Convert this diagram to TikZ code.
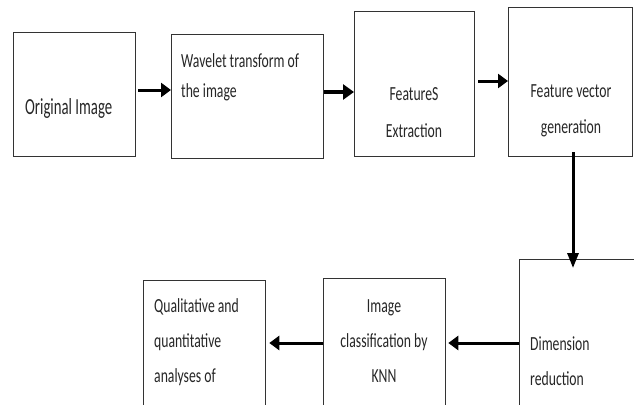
\documentclass[tikz,border=0pt]{standalone}
\usepackage{fontspec}
\usetikzlibrary{arrows.meta,calc}
\newfontfamily\diafont[FakeStretch=0.685]{Carlito}
\newcommand\mylines[2]{\begin{tabular}[t]{@{}#1@{}}#2\end{tabular}}
\begin{document}
\begin{tikzpicture}[x=1pt,y=-1pt,
  box/.style={draw=black!80, line width=1.3pt, anchor=north west, inner sep=0pt},
  txt/.style={inner sep=0pt, text=black!85, font=\diafont\fontsize{20}{35}\selectfont},
  arr/.style={line width=3pt, black, -{Triangle[length=10pt,width=14pt]}},
  arrb/.style={line width=4pt, black, -{Triangle[length=11pt,width=15pt]}},
  arrv/.style={line width=3pt, black, -{Triangle[length=15pt,width=11pt]}}]
\useasboundingbox (0,0) rectangle (634,404);
\begin{scope}
\clip (0,0) rectangle (634,404);
% boxes
\node[box, minimum width=122pt, minimum height=124pt] (b1) at (13,32) {};
\node[box, minimum width=152pt, minimum height=124pt] (b2) at (171,34) {};
\node[box, minimum width=120pt, minimum height=145pt] (b3) at (354,11) {};
\node[box, minimum width=124pt, minimum height=149pt] (b4) at (508,7) {};
\node[box, minimum width=140pt, minimum height=170pt] (b5) at (519,259) {};
\node[box, minimum width=122pt, minimum height=150pt] (b6) at (323,278) {};
\node[box, minimum width=122pt, minimum height=150pt] (b7) at (143,280) {};
% texts
\node[txt, font=\diafont\fontsize{23}{35}\selectfont, anchor=base west] (t1) at (25,114) {\resizebox{87pt}{\height}{Original Image}};
\node[txt, anchor=base west, font=\diafont\fontsize{20}{30}\selectfont] (t2) at (181,67) {\mylines{l}{Wavelet transform of\\the image}};
\node[txt, anchor=base, font=\diafont\fontsize{20}{37}\selectfont] (t3) at (414,100) {\mylines{c}{FeatureS\\Extraction}};
\node[txt, anchor=base, font=\diafont\fontsize{20}{36}\selectfont] (t4) at (571,97) {\mylines{c}{Feature vector\\generation}};
\node[txt, anchor=base west] (t5) at (530,350) {\mylines{l}{Dimension\\reduction}};
\node[txt, anchor=base] (t6) at (384,312) {\mylines{c}{Image\\classification by\\KNN}};
\node[txt, anchor=base west] (t7) at (154,312) {\mylines{l}{Qualitative and\\quantitative\\analyses of}};
% connectors
\coordinate (r1) at (0,90);
\coordinate (r2) at (0,92);
\coordinate (r3) at (0,81);
\coordinate (r4) at (0,343);
\coordinate (v) at (573,0);
\draw[arr, shorten <=2pt] (b1.east |- r1) -- (b2.west |- r1);
\draw[arrb] (b2.east |- r2) -- (b3.west |- r2);
\draw[arr, shorten <=3pt] (b3.east |- r3) -- (b4.west |- r3);
\draw[arrv, shorten <=-5pt, shorten >=-9pt] (b4.south -| v) -- (b5.north -| v);
\draw[arr, shorten >=2pt] (b5.west |- r4) -- (b6.east |- r4);
\draw[arr, shorten >=3pt] (b6.west |- r4) -- (b7.east |- r4);
\end{scope}
\end{tikzpicture}
\end{document}
